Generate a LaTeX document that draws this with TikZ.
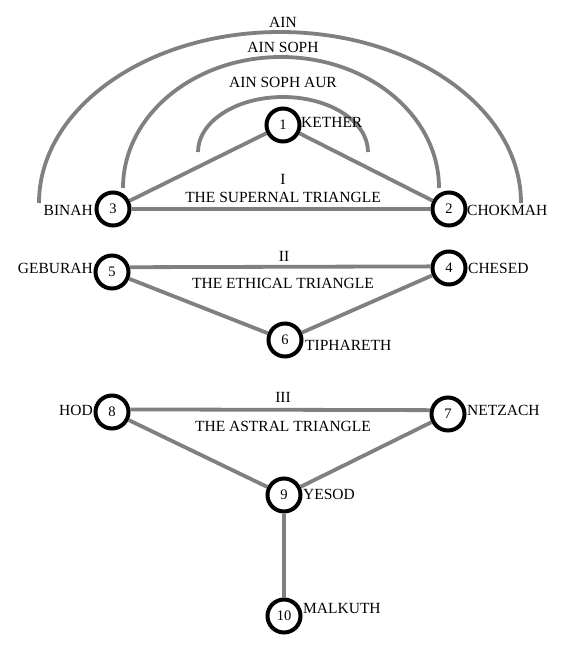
\documentclass[tikz,border=0pt]{standalone}
\usepackage{fontspec}
\setmainfont{Liberation Serif}
\begin{document}
\begin{tikzpicture}[x=1pt,y=-1pt,
  sephira/.style={circle,draw=black,line width=4pt,minimum size=33pt,inner sep=0pt,fill=white,font=\fontsize{14.5}{14.5}\selectfont},
  path/.style={draw=black!50,line width=3.8pt},
  veil/.style={draw=black!50,line width=3.8pt},
  lbl/.style={inner sep=0pt,font=\fontsize{15.5}{15.5}\selectfont},
]
\useasboundingbox (0,0) rectangle (562,650);
% veils
\draw[veil] (39,203) arc[start angle=180,end angle=0,x radius=241,y radius=-171];
\draw[veil] (123,188) arc[start angle=180,end angle=0,x radius=158,y radius=-131];
\draw[veil] (198,152) arc[start angle=180,end angle=0,x radius=85,y radius=-55];
% sephiroth
\node[sephira] (s1) at (283,125) {1};
\node[sephira] (s2) at (449,209) {2};
\node[sephira] (s3) at (113,209) {3};
\node[sephira] (s4) at (449,268) {4};
\node[sephira] (s5) at (112,272) {5};
\node[sephira] (s6) at (285,340) {6};
\node[sephira] (s7) at (448,414) {7};
\node[sephira] (s8) at (112,412) {8};
\node[sephira] (s9) at (284,495) {9};
\node[sephira] (s10) at (284,616) {10};
% paths
\draw[path] (s1) -- (s3);
\draw[path] (s1) -- (s2);
\draw[path] (s3) -- (s2);
\draw[path] (s5.15) -- (s4.175);
\draw[path] (s5) -- (s6);
\draw[path] (s6) -- (s4);
\draw[path] (s8.8) -- (s7.168);
\draw[path] (s8) -- (s9);
\draw[path] (s9) -- (s7);
\draw[path] (s9) -- (s10);
% labels
\node[lbl] (ain) at (283,22) {AIN};
\node[lbl] (ainsoph) at (283,47) {AIN SOPH};
\node[lbl] (ainsophaur) at (283,82) {AIN SOPH AUR};
\node[lbl,anchor=west] (kether) at (301,122) {KETHER};
\node[lbl] (t1) at (283,179) {I};
\node[lbl] (t1n) at (283,197) {THE SUPERNAL TRIANGLE};
\node[lbl,anchor=east] (binah) at (93,210) {BINAH};
\node[lbl,anchor=west] (chokmah) at (467,210) {CHOKMAH};
\node[lbl] (t2) at (284,256) {II};
\node[lbl] (t2n) at (283,283) {THE ETHICAL TRIANGLE};
\node[lbl,anchor=east] (geburah) at (93,268) {GEBURAH};
\node[lbl,anchor=west] (chesed) at (468,268) {CHESED};
\node[lbl,anchor=west] (tiphareth) at (305,345) {TIPHARETH};
\node[lbl] (t3) at (283,397) {III};
\node[lbl] (t3n) at (283,426) {THE ASTRAL TRIANGLE};
\node[lbl,anchor=east] (hod) at (93,410) {HOD};
\node[lbl,anchor=west] (netzach) at (467,410) {NETZACH};
\node[lbl,anchor=west] (yesod) at (303,494) {YESOD};
\node[lbl,anchor=west] (malkuth) at (303,608) {MALKUTH};
\end{tikzpicture}
\end{document}
